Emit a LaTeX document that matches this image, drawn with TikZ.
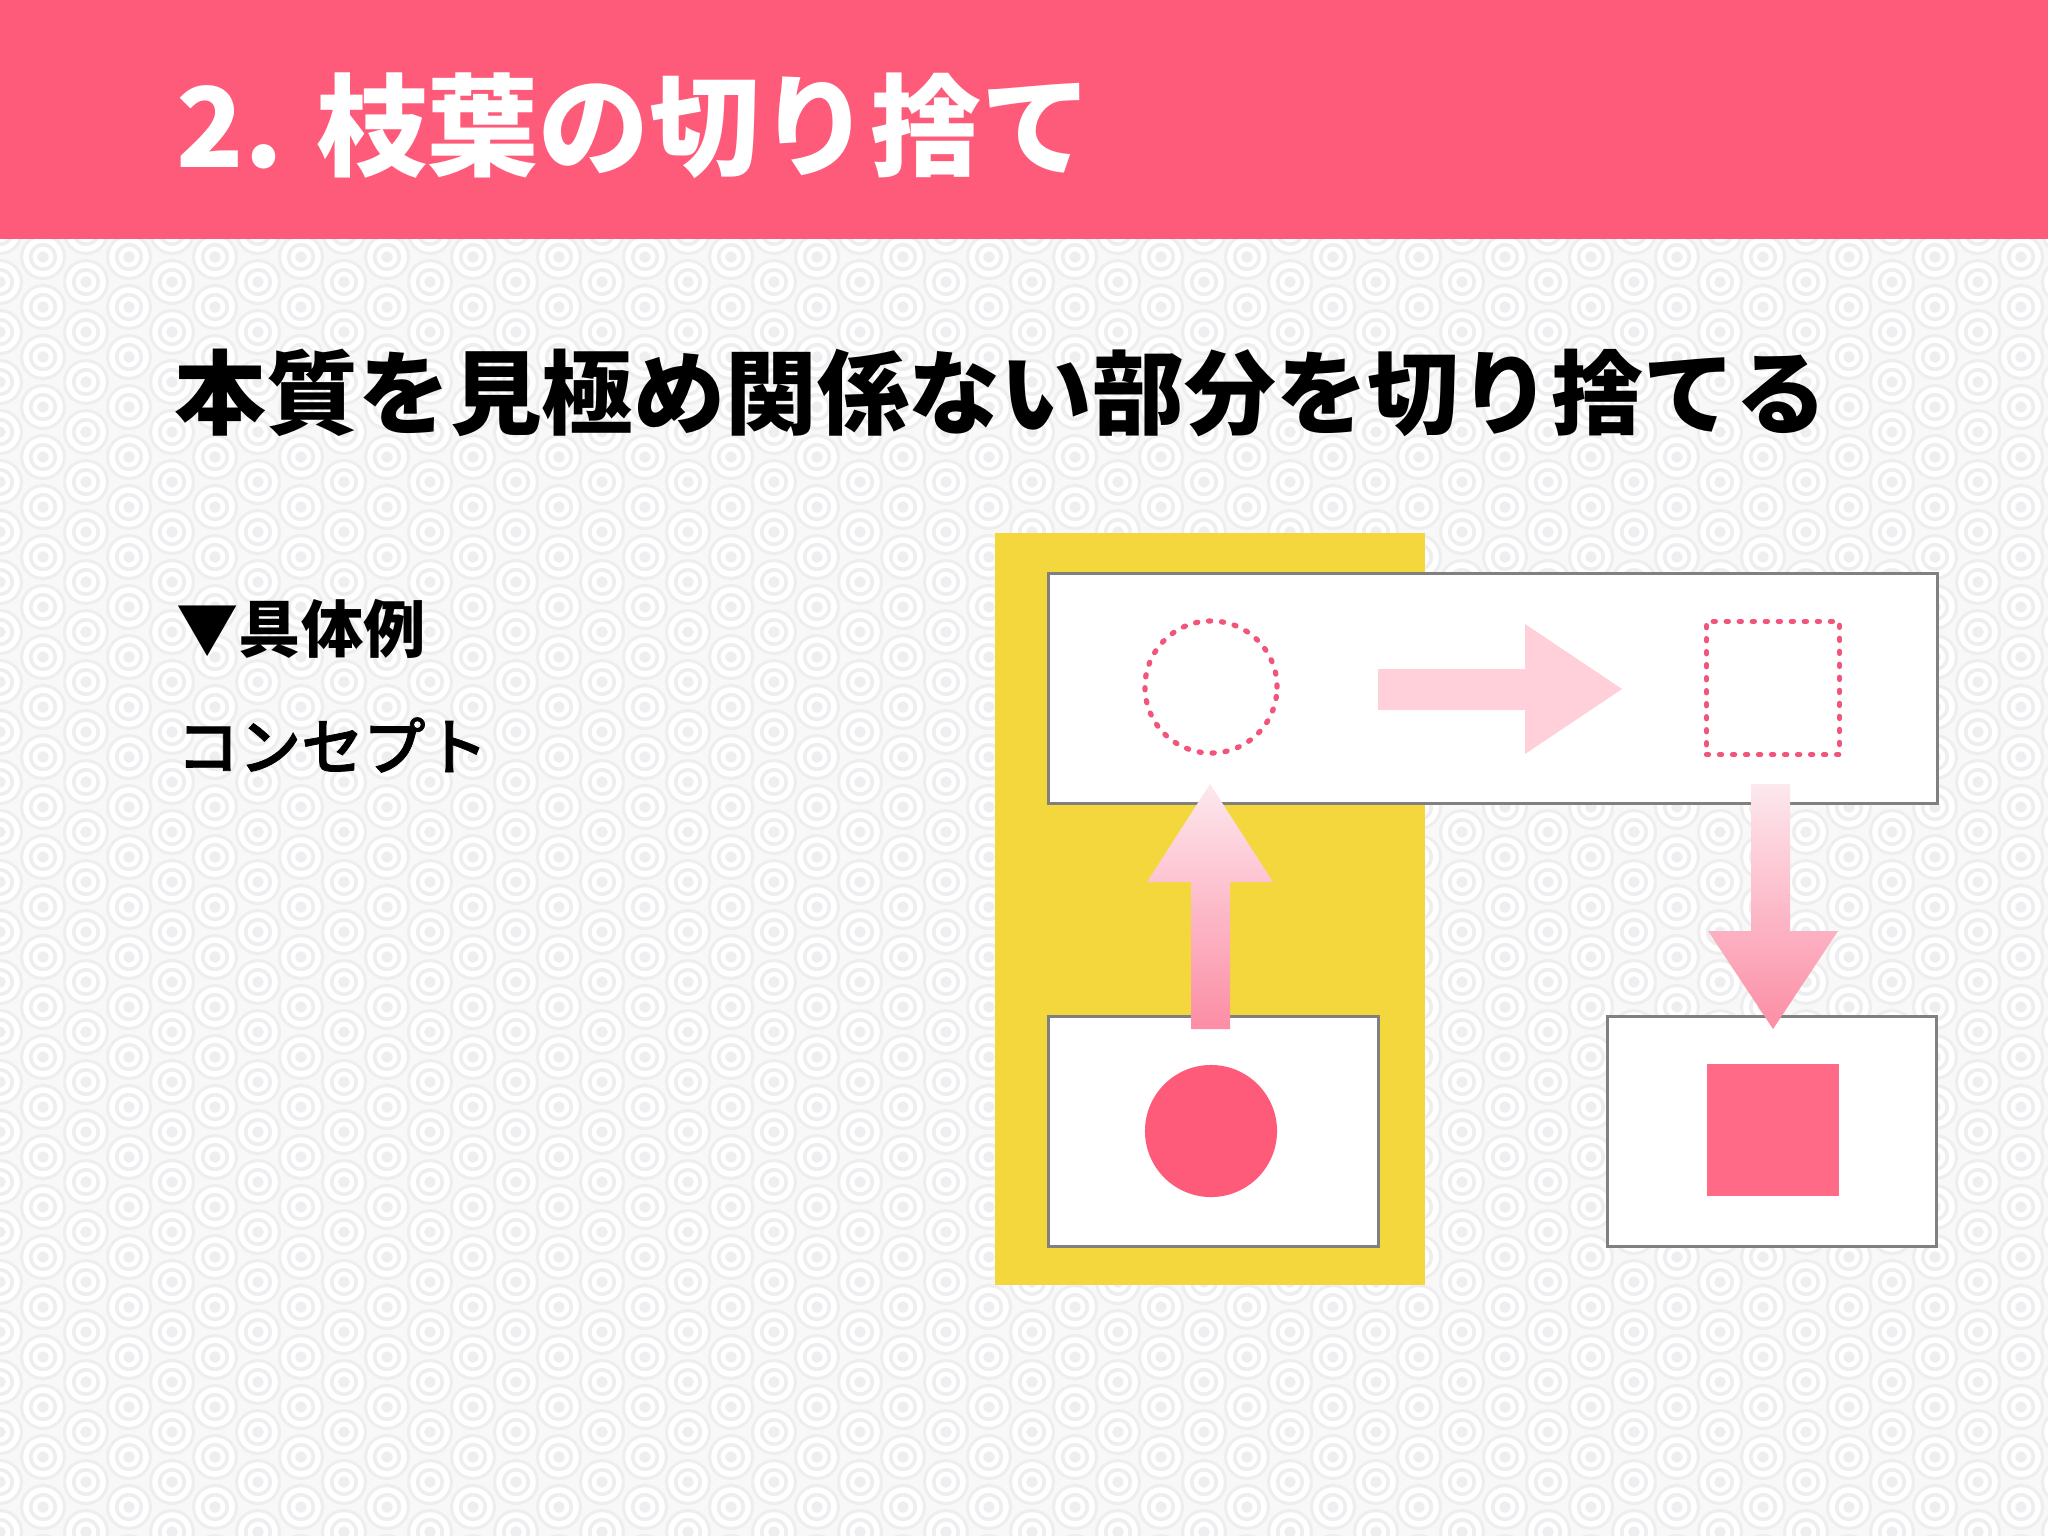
\documentclass[tikz,border=0pt]{standalone}
\usepackage{fontspec}
\usepackage{tikz}
\usepackage{xcolor}
\newfontfamily\jp{Noto Sans CJK JP}
\newfontfamily\jpmid[FakeBold=1.2]{Noto Sans CJK JP Medium}

\definecolor{headpink}{HTML}{FE5A79}
\definecolor{dotpink}{HTML}{F2557A}
\definecolor{markyellow}{HTML}{F4D73D}
\definecolor{lightpink}{HTML}{FFD0DA}
\definecolor{fadetop}{HTML}{FDE8EE}
\definecolor{fadebottom}{HTML}{FC8DA5}
\definecolor{squarepink}{HTML}{FF6B87}
\definecolor{boxgray}{HTML}{808080}
\definecolor{bgwhite}{HTML}{F8F8F9}
\definecolor{bggray}{HTML}{EEEDEF}

\tikzset{
  panel/.style={draw=boxgray, line width=0.9pt, fill=white, anchor=north west, inner sep=0pt},
  dotline/.style={draw=dotpink, line width=1.5pt, line cap=round, dash pattern=on 0.6pt off 3.1pt},
  ringline/.style={draw=white, line width=1.6pt},
  fadearrow/.style={top color=fadetop, bottom color=fadebottom, draw=none},
}

\begin{document}
\begin{tikzpicture}[x=0.01cm,y=-0.01cm]
	\useasboundingbox (0,0) rectangle (2048,1536);
	%% ========================================================
	\fill[bgwhite] (0,239) rectangle (2048,1536);
	\begin{scope}
		\clip (0,239) rectangle (2048,1536);
		\foreach \i in {0,...,48}{
			\foreach \j in {0,...,26}{
				\pgfmathsetmacro{\cy}{232+50*\j+25*mod(\i,2)}
				\fill[bggray] (43*\i,\cy) circle[radius=23];
				\draw[ringline] (43*\i,\cy) circle[radius=17];
				\draw[ringline, line width=1.3pt] (43*\i,\cy) circle[radius=8];
			}
		}
	\end{scope}
	%% ========================================================
	\fill[headpink] (0,0) rectangle (2048,239);
	\node[anchor=west, inner sep=0pt, text=white, font=\jp\bfseries\fontsize{31.5}{36}\selectfont] (title) at (176,126) {2. 枝葉の切り捨て};
	\node[anchor=west, inner sep=0pt, font=\jp\bfseries\fontsize{26.1}{30}\selectfont] (lead) at (174,393) {本質を見極め関係ない部分を切り捨てる};
	\node[anchor=west, inner sep=0pt, font=\jp\bfseries\fontsize{17.7}{21}\selectfont] (example) at (176,629) {▼具体例};
	\node[anchor=west, inner sep=0pt, font=\jpmid\fontsize{17.7}{21}\selectfont] (concept) at (176,745) {コンセプト};
	%% ========================================================
	\fill[markyellow] (995,533) rectangle (1425,1285);
	\node[panel, minimum width=8.88cm, minimum height=2.30cm] (top) at (1047,572) {};
	\node[panel, minimum width=3.30cm, minimum height=2.30cm] (origin) at (1047,1015) {};
	\node[panel, minimum width=3.29cm, minimum height=2.30cm] (result) at (1606,1015) {};

	\node[circle, dotline, minimum size=1.32cm, inner sep=0pt] (ghostcircle) at (1211,687) {};
	\node[rectangle, dotline, minimum size=1.33cm, inner sep=0pt] (ghostsquare) at (1773,688) {};
	\node[circle, fill=headpink, minimum size=1.32cm, inner sep=0pt] (solidcircle) at (1211,1131) {};
	\node[rectangle, fill=squarepink, minimum size=1.31cm, inner sep=0pt] (solidsquare) at (1773,1130) {};

	\fill[lightpink] (1378,669) -- (1525,669) -- (1525,624) -- (1622,689) -- (1525,754) -- (1525,710) -- (1378,710) -- cycle;
	\shade[fadearrow] (1191,1029) -- (1191,882) -- (1147,882) -- (1210,784) -- (1273,882) -- (1230,882) -- (1230,1029) -- cycle;
	\shade[fadearrow] (1751,784) -- (1790,784) -- (1790,931) -- (1838,931) -- (1773,1029) -- (1708,931) -- (1751,931) -- cycle;
	%% ========================================================
\end{tikzpicture}
\end{document}
